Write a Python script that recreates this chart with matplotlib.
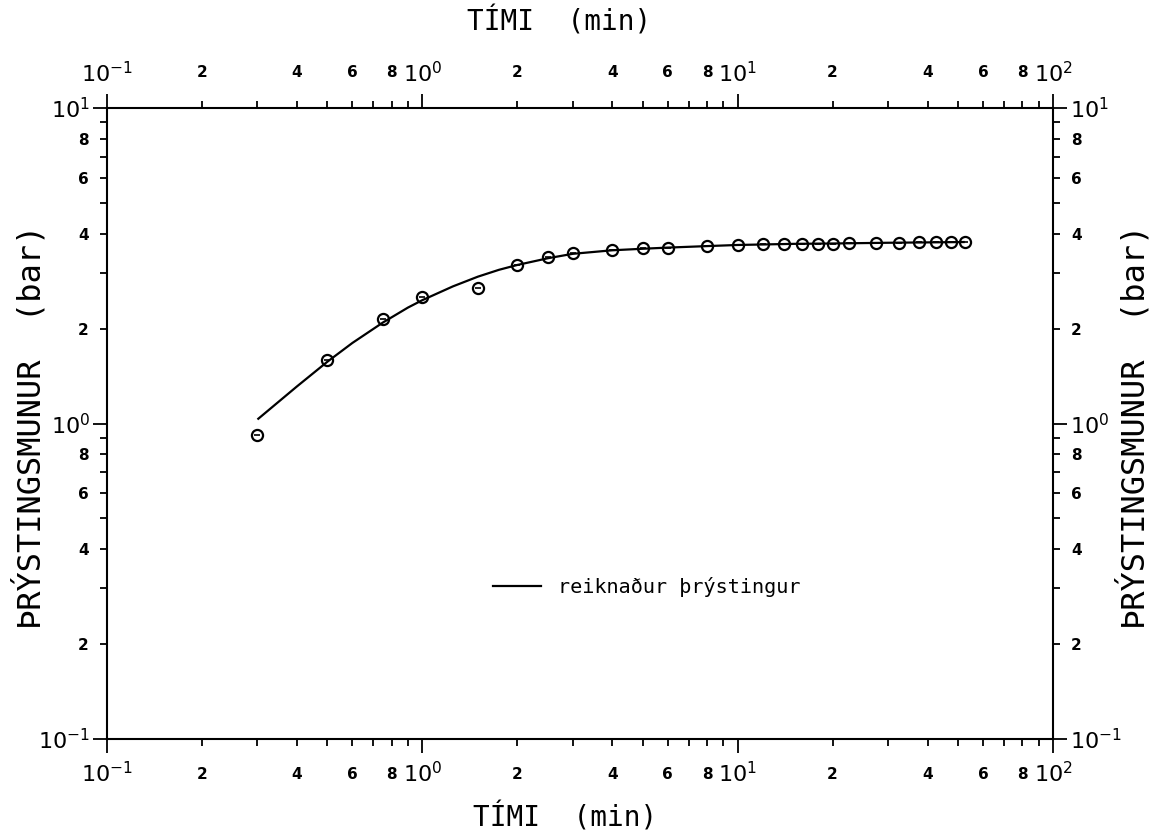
import matplotlib
matplotlib.use("Agg")
import matplotlib.pyplot as plt
from matplotlib.ticker import FixedLocator, FixedFormatter
from matplotlib.lines import Line2D

# measured data (circles)
time_meas = [0.3, 0.5, 0.75, 1.0, 1.5, 2.0, 2.5, 3.0, 4.0, 5.0, 6.0, 8.0, 10.0,
             12.0, 14.0, 16.0, 18.0, 20.0, 22.5, 27.5, 32.5, 37.5, 42.5, 47.5, 52.5]
press_meas = [0.92, 1.59, 2.15, 2.51, 2.69, 3.18, 3.38, 3.48, 3.55, 3.59, 3.61, 3.65, 3.68,
              3.70, 3.70, 3.71, 3.71, 3.71, 3.73, 3.74, 3.74, 3.75, 3.75, 3.75, 3.76]

# calculated pressure (solid line)
time_calc = [0.3, 0.4, 0.5, 0.6, 0.75, 0.9, 1.0, 1.25, 1.5, 1.75, 2.0, 2.5, 3.0,
             4.0, 5.0, 6.0, 8.0, 10.0, 15.0, 20.0, 30.0, 40.0, 52.5]
press_calc = [1.03, 1.31, 1.57, 1.80, 2.09, 2.33, 2.46, 2.72, 2.92, 3.07, 3.18, 3.34, 3.45,
              3.54, 3.58, 3.61, 3.65, 3.68, 3.71, 3.72, 3.74, 3.75, 3.76]

major_locs = [0.1, 1, 10, 100]
major_labels_x = [r"$10^{-1}$", r"$10^{0}$", r"$10^{1}$", r"$10^{2}$"]
major_locs_y = [0.1, 1, 10]
major_labels_y = [r"$10^{-1}$", r"$10^{0}$", r"$10^{1}$"]
minor_digits = [2, 3, 4, 5, 6, 7, 8, 9]
minor_shown = ["2", "", "4", "", "6", "", "8", ""]

x_title = "TÍMI  (min)"
y_title = "ÞRÝSTINGSMUNUR  (bar)"
legend_label = "reiknaður þrýstingur"

fig = plt.figure(figsize=(11.54, 8.39), dpi=100)
ax = fig.add_axes([107/1154, 1-739/839, (1053-107)/1154, (739-108)/839])
ax.set_xscale("log")
ax.set_yscale("log")
ax.set_xlim(0.1, 100)
ax.set_ylim(0.1, 10)

line, = ax.plot(time_calc, press_calc, color="black", lw=1.6, solid_capstyle="butt")
ax.plot(time_meas, press_meas, linestyle="none", marker="o", markersize=8,
        markerfacecolor="none", markeredgecolor="black", markeredgewidth=1.6)
ax.plot(time_meas, press_meas, linestyle="none", marker="_", markersize=4,
        markeredgecolor="black", markeredgewidth=1.2)

def setup(axis, locs_major, labels_major, decades):
    minor_locs = []
    minor_labs = []
    for d in decades:
        for m, s in zip(minor_digits, minor_shown):
            minor_locs.append(m * d)
            minor_labs.append(s)
    axis.set_major_locator(FixedLocator(locs_major))
    axis.set_major_formatter(FixedFormatter(labels_major))
    axis.set_minor_locator(FixedLocator(minor_locs))
    axis.set_minor_formatter(FixedFormatter(minor_labs))

setup(ax.xaxis, major_locs, major_labels_x, [0.1, 1, 10])
setup(ax.yaxis, major_locs_y, major_labels_y, [0.1, 1])

for s in ax.spines.values():
    s.set_linewidth(1.5)

ax.tick_params(which="both", direction="out", top=True, right=True,
               labeltop=True, labelright=True, width=1.3)
ax.tick_params(which="major", length=10, labelsize=16)
ax.tick_params(which="minor", length=5, labelsize=11)
ax.tick_params(axis="x", which="major", pad=6)
ax.tick_params(axis="x", which="minor", pad=15)
ax.tick_params(axis="y", which="major", pad=2)
ax.tick_params(axis="y", which="minor", pad=8)

for t in ax.xaxis.get_minor_ticks() + ax.yaxis.get_minor_ticks():
    t.label1.set_fontweight("bold")
    t.label2.set_fontweight("bold")

fig.text(559/1154, 1-22/839, x_title, ha="center", va="center",
         fontsize=20, family="DejaVu Sans Mono")
fig.text(565/1154, 1-818/839, x_title, ha="center", va="center",
         fontsize=20, family="DejaVu Sans Mono")
fig.text(30/1154, 1-427/839, y_title, ha="center", va="center", rotation=90,
         fontsize=23, family="DejaVu Sans Mono")
fig.text(1134/1154, 1-427/839, y_title, ha="center", va="center", rotation=90,
         fontsize=23, family="DejaVu Sans Mono")

handle = Line2D([], [], color="black", lw=1.6)
ax.legend([handle], [legend_label], loc="center left",
          bbox_to_anchor=((493-107)/946, (739-587)/631), frameon=False,
          borderpad=0, borderaxespad=0,
          handlelength=2.4, handletextpad=0.85,
          prop={"family": "DejaVu Sans Mono", "size": 14.5})

fig.savefig("out.png", dpi=100, facecolor="white")
